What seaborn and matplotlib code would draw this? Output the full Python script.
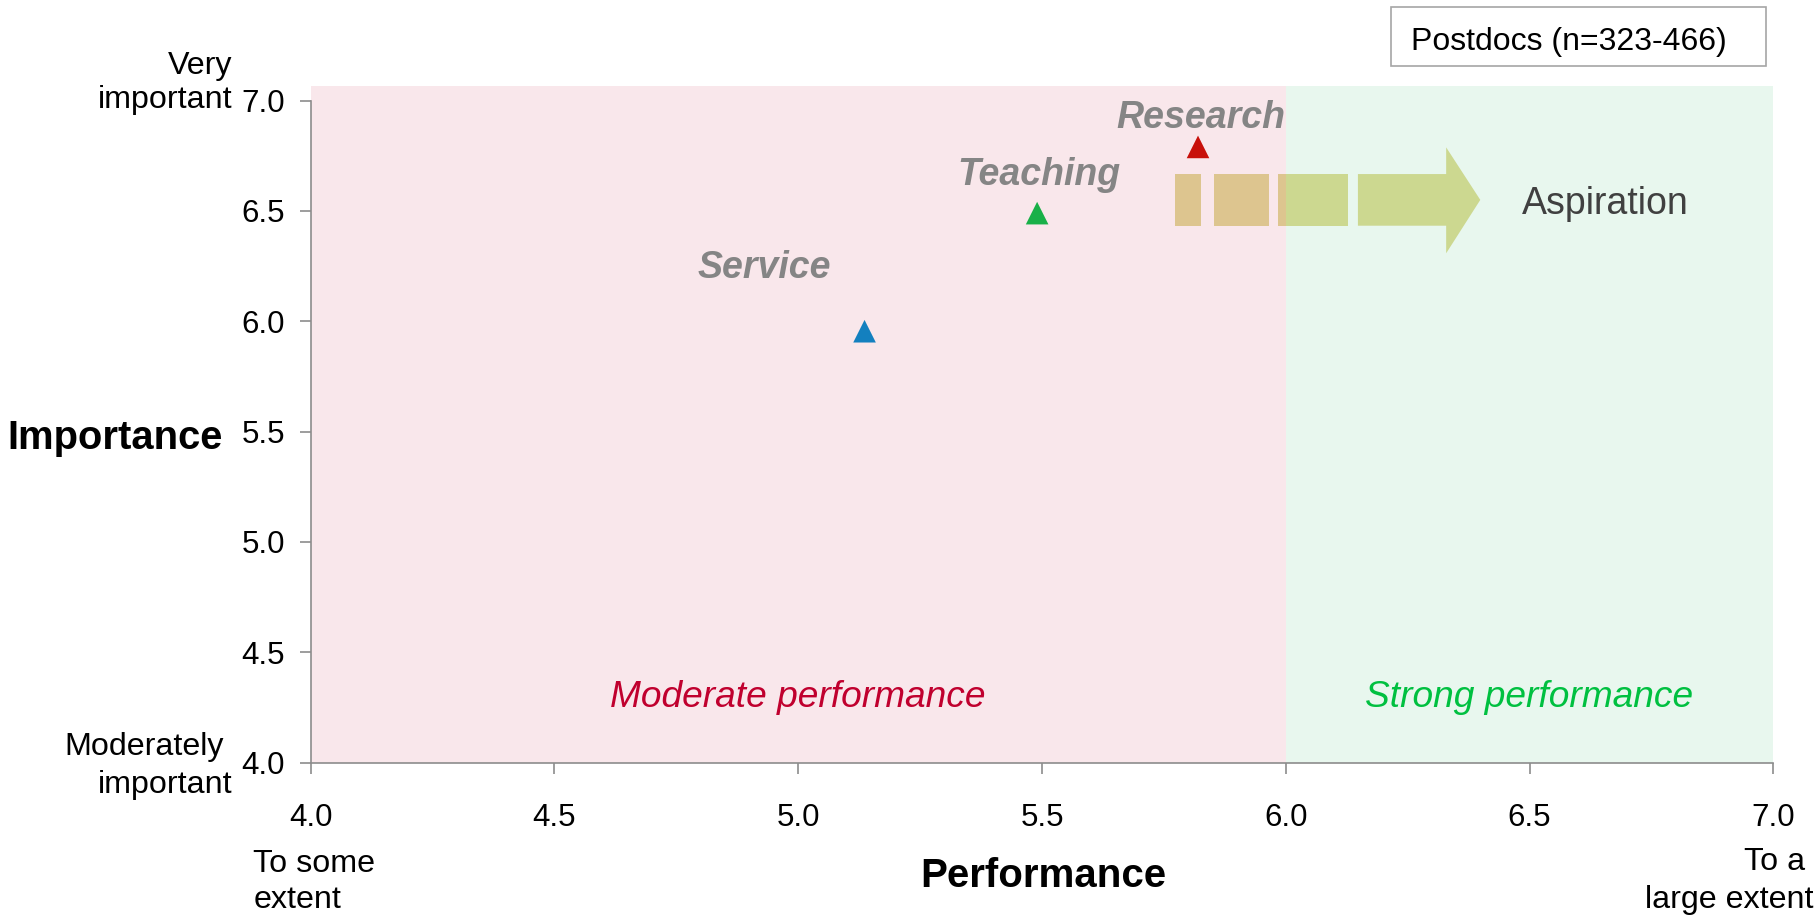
import matplotlib
matplotlib.use("Agg")
import matplotlib.pyplot as plt
import seaborn as sns
import pandas as pd
from matplotlib.patches import Rectangle, Polygon

# ---------------- data ----------------
categories = ["Service", "Teaching", "Research"]
performance = [5.136, 5.49, 5.82]
importance = [5.955, 6.49, 6.79]
marker_colors = ["#1380BF", "#19B048", "#C8100A"]
ticks = [4.0, 4.5, 5.0, 5.5, 6.0, 6.5, 7.0]
tick_labels = ["4.0", "4.5", "5.0", "5.5", "6.0", "6.5", "7.0"]
zone_names = ["Moderate performance", "Strong performance"]
legend_text = "Postdocs (n=323-466)"

# ---------------- style ----------------
sns.set_style("white")
plt.rcParams["font.family"] = ["Liberation Sans", "DejaVu Sans"]
plt.rcParams["text.color"] = "black"
plt.rcParams["axes.labelcolor"] = "black"

W, H = 1819, 915
def fx(px): return px / W
def fy(py): return 1 - py / H

fig = plt.figure(figsize=(W / 100, H / 100), dpi=100)
ax = fig.add_axes([fx(310.7), fy(762.7), (1773.3 - 310.7) / W, (762.7 - 86) / H])

ax.set_xlim(4, 7)
ax.set_ylim(4, 7.066)

PINK = "#F9E7EB"
GREEN_BG = "#E8F7EE"
ax.axvspan(4, 6, color=PINK, lw=0, zorder=0)
ax.axvspan(6, 7, color=GREEN_BG, lw=0, zorder=0)

df = pd.DataFrame({"Area": categories, "Performance": performance, "Importance": importance})
sns.scatterplot(data=df, x="Performance", y="Importance", hue="Area",
                palette=dict(zip(categories, marker_colors)), marker="^", s=265,
                edgecolor="none", legend=False, ax=ax, zorder=5)

# point labels (offsets in points, layout only)
label_offsets = [(-72.5, 38.5), (1, 20), (2, 13.9)]
for cat, x, y, off in zip(categories, performance, importance, label_offsets):
    ax.annotate(cat, (x, y), xytext=off, textcoords="offset points", ha="center",
                va="baseline", fontsize=27, fontweight="bold", style="italic",
                color="#858585", zorder=6)

# zone labels
ax.text(5.0, 4.254, zone_names[0], ha="center", va="baseline", fontsize=26.75,
        style="italic", color="#C0002E")
ax.text(6.499, 4.254, zone_names[1], ha="center", va="baseline", fontsize=26.75,
        style="italic", color="#00C040")

# aspiration arrow (dashed block arrow)
TAN = "#DDC58F"
OLIVE = "#CCD890"
y0, y1 = 6.433, 6.667
for xa, xb, c in [(5.772, 5.826, TAN), (5.853, 5.965, TAN), (5.985, 6.0, TAN), (6.0, 6.127, OLIVE)]:
    ax.add_patch(Rectangle((xa, y0), xb - xa, y1 - y0, facecolor=c, edgecolor="none", zorder=3))
ax.add_patch(Polygon([(6.148, y0), (6.329, y0), (6.329, 6.308), (6.399, 6.55),
                      (6.329, 6.788), (6.329, y1), (6.148, y1)],
                     closed=True, facecolor=OLIVE, edgecolor="none", zorder=3))
ax.text(6.485, 6.532, "Aspiration", ha="left", va="center", fontsize=27, color="#404040")

# axes styling
ax.set_xticks(ticks)
ax.set_xticklabels(tick_labels)
ax.set_yticks(ticks)
ax.set_yticklabels(tick_labels)
for s in ["top", "right"]:
    ax.spines[s].set_visible(False)
for s in ["left", "bottom"]:
    ax.spines[s].set_color("#8C8C8C")
    ax.spines[s].set_linewidth(1.2)
ax.spines["left"].set_bounds(4, 7)
ax.spines["bottom"].set_bounds(4, 7)
ax.tick_params(axis="both", which="major", direction="out", length=7.7, width=1.2,
               color="#8C8C8C", labelsize=22.5, labelcolor="black",
               bottom=True, left=True, top=False, right=False)
ax.tick_params(axis="x", pad=21)
ax.tick_params(axis="y", pad=11)
ax.grid(False)

ax.set_xlabel("Performance", fontsize=29, fontweight="bold", color="black")
ax.xaxis.label.set_va("baseline")
ax.xaxis.set_label_coords(0.5009, (762.7 - 886.7) / 676.7)
ax.set_ylabel("Importance", fontsize=28.8, fontweight="bold", rotation=0, ha="right",
              va="baseline", color="black")
ax.yaxis.set_label_coords((222.7 - 310.7) / 1462.6, (762.7 - 449) / 676.7)

# end-point anchor texts
fs = 23.2
fig.text(fx(232), fy(74), "Very", ha="right", va="baseline", fontsize=fs)
fig.text(fx(232), fy(108.3), "important", ha="right", va="baseline", fontsize=fs)
fig.text(fx(224), fy(755), "Moderately", ha="right", va="baseline", fontsize=fs)
fig.text(fx(232), fy(793.3), "important", ha="right", va="baseline", fontsize=fs)
fig.text(fx(253.3), fy(871.7), "To some", ha="left", va="baseline", fontsize=fs)
fig.text(fx(253.3), fy(908), "extent", ha="left", va="baseline", fontsize=fs)
fig.text(fx(1805), fy(870), "To a", ha="right", va="baseline", fontsize=fs)
fig.text(fx(1813.3), fy(908.3), "large extent", ha="right", va="baseline", fontsize=fs)

# legend-like box
fig.patches.append(Rectangle((fx(1390.7), fy(65.7)), (1766 - 1390.7) / W, (65.7 - 7.3) / H,
                             transform=fig.transFigure, facecolor="white",
                             edgecolor="#A6A6A6", linewidth=1.2))
fig.text(fx(1410.7), fy(50), legend_text, ha="left", va="baseline", fontsize=23)

fig.savefig("out.png", dpi=100)
